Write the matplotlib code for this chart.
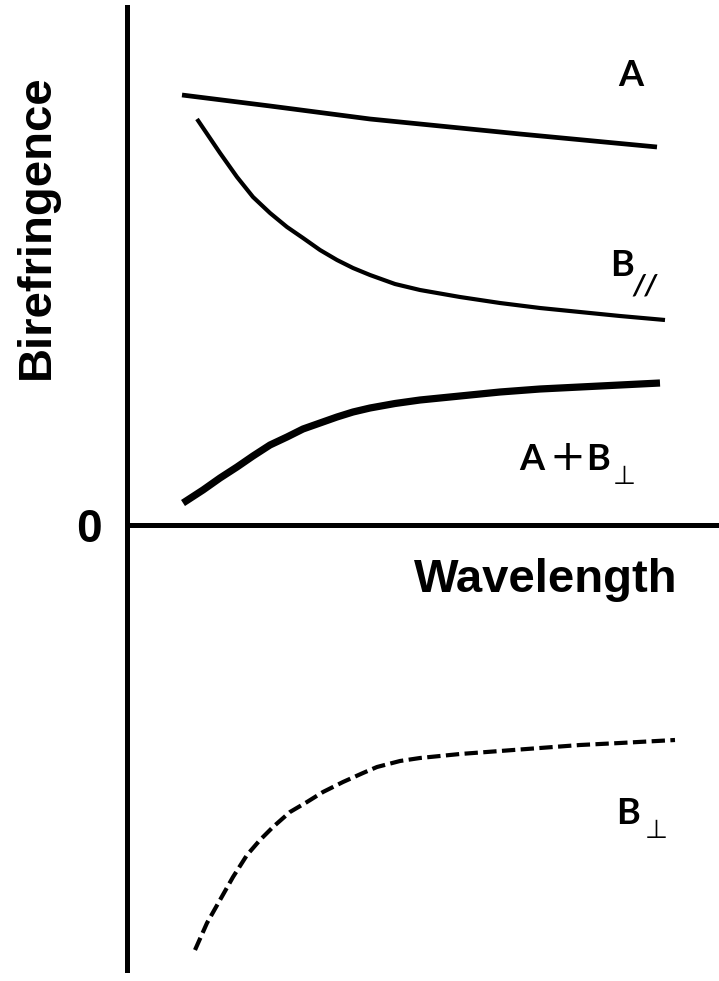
import matplotlib
matplotlib.use("Agg")
import matplotlib.pyplot as plt
import numpy as np

# curve readings (wavelength, birefringence) in arbitrary units
wl_a = [0.55, 1.43, 2.43, 3.93, 5.30]
bf_a = [4.30, 4.19, 4.06, 3.91, 3.78]

wl_bpar = [0.70, 0.93, 1.10, 1.26, 1.43, 1.60, 1.76, 1.93, 2.10, 2.26, 2.43,
           2.68, 2.93, 3.33, 3.73, 4.13, 4.53, 4.93, 5.38]
bf_bpar = [4.06, 3.72, 3.48, 3.28, 3.12, 2.98, 2.87, 2.75, 2.65, 2.57, 2.50,
           2.41, 2.35, 2.28, 2.22, 2.17, 2.13, 2.09, 2.05]

wl_sum = [0.56, 0.76, 0.93, 1.10, 1.26, 1.43, 1.60, 1.76, 1.93, 2.10, 2.26,
          2.43, 2.68, 2.93, 3.33, 3.73, 4.13, 4.53, 4.93, 5.33]
bf_sum = [0.22, 0.35, 0.47, 0.58, 0.69, 0.80, 0.88, 0.96, 1.02, 1.08, 1.13,
          1.17, 1.215, 1.25, 1.29, 1.33, 1.36, 1.38, 1.40, 1.42]

wl_bperp = [0.68, 0.80, 0.93, 1.06, 1.20, 1.33, 1.46, 1.63, 1.80, 1.96, 2.16,
            2.36, 2.50, 2.73, 2.93, 3.33, 3.73, 4.13, 4.53, 4.93, 5.48]
bf_bperp = [-4.25, -3.98, -3.75, -3.52, -3.30, -3.15, -3.02, -2.87, -2.77,
            -2.67, -2.57, -2.48, -2.42, -2.36, -2.33, -2.29, -2.26, -2.23,
            -2.20, -2.18, -2.15]

fig = plt.figure(figsize=(7.19, 9.81), dpi=100)
ax = fig.add_axes([0, 0, 1, 1])
ax.set_xlim(-1.27, 5.92)
ax.set_ylim(-4.56, 5.25)

ax.plot(wl_a, bf_a, color="black", lw=3.4, solid_capstyle="butt",
        solid_joinstyle="round")
ax.plot(wl_bpar, bf_bpar, color="black", lw=3.0, solid_capstyle="butt",
        solid_joinstyle="round")
ax.plot(wl_sum, bf_sum, color="black", lw=5.2, solid_capstyle="butt",
        solid_joinstyle="round")
ax.plot(wl_bperp, bf_bperp, color="black", lw=3.0, ls=(0, (3.2, 1.3)),
        dash_capstyle="butt")

# axes as spines through the origin
for side in ["top", "right"]:
    ax.spines[side].set_visible(False)
ax.spines["left"].set_position(("data", 0))
ax.spines["bottom"].set_position(("data", 0))
ax.spines["left"].set_bounds(-4.45, 5.18)
ax.spines["bottom"].set_bounds(0, 5.92)
ax.spines["left"].set_linewidth(3.6)
ax.spines["bottom"].set_linewidth(3.6)
ax.set_xticks([])
ax.set_yticks([])

arial = "Liberation Sans"
lab = ["Lato", "DejaVu Sans"]
sym = "DejaVu Sans"

ax.text(-0.90, 2.98, "Birefringence", rotation=90, ha="center", va="center",
        fontsize=34, fontweight="bold", family=arial)
ax.text(4.19, -0.55, "Wavelength", ha="center", va="center",
        fontsize=34, fontweight="bold", family=arial)
ax.text(-0.38, -0.05, "0", ha="center", va="center",
        fontsize=33, fontweight="bold", family=arial)

ax.text(5.04, 4.50, "A", ha="center", va="center", fontsize=26,
        fontweight="bold", family=lab)

ax.text(4.95, 2.59, "B", ha="center", va="center", fontsize=26,
        fontweight="bold", family=lab)
ax.text(5.18, 2.38, "//", ha="center", va="center", fontsize=21,
        fontweight="bold", style="italic", family=lab)

ax.text(4.05, 0.65, "A", ha="center", va="center", fontsize=26,
        fontweight="bold", family=lab)
ax.text(4.40, 0.67, "+", ha="center", va="center", fontsize=31,
        family=sym)
ax.text(4.71, 0.65, "B", ha="center", va="center", fontsize=26,
        fontweight="bold", family=lab)
ax.text(4.97, 0.48, "\u22a5", ha="center", va="center", fontsize=19,
        family=sym)

ax.text(5.01, -2.88, "B", ha="center", va="center", fontsize=26,
        fontweight="bold", family=lab)
ax.text(5.29, -3.06, "\u22a5", ha="center", va="center", fontsize=19,
        family=sym)

fig.savefig("out.png", dpi=100)
